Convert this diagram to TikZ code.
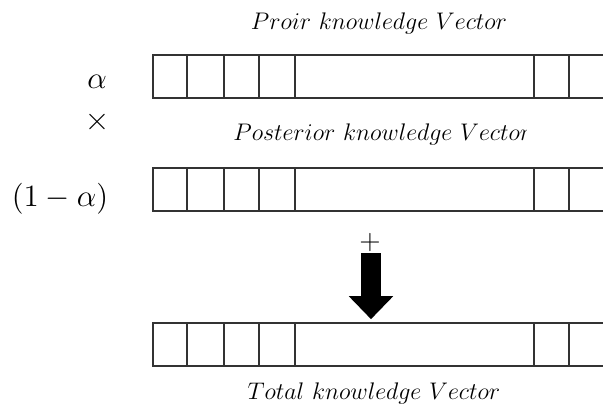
\RequirePackage{fix-cm}
\documentclass[tikz,border=0pt]{standalone}
\usepackage{tikz}
\usetikzlibrary{positioning,calc,arrows.meta}
\tikzset{
  vec/.style={rectangle, draw=black!80, line width=0.8pt, minimum width=231pt, minimum height=21.5pt, inner sep=0pt},
  captext/.style={font=\fontsize{12}{14}\selectfont},
  coef/.style={font=\fontsize{15.5}{18}\selectfont},
  bigarrow/.style={line width=10pt, -{Triangle[width=21.5pt,length=11.5pt]}}
}

\begin{document}
\begin{tikzpicture}[x=0.5pt,y=-0.5pt]
	\useasboundingbox (0,0) rectangle (603,405);
	\node[vec] (prior) at (384,76.5) {};
	\node[vec] (post) at (384,189.5) {};
	\node[vec] (total) at (384,344.5) {};
	
	% cell borders
	\foreach \v in {prior,post,total}
	\foreach \d in {35,72,107,143,382,417}
	\draw[black!80, line width=0.8pt] (\v.north west) ++(\d,0) -- ++(0,43);
	
	\node[captext] (priortext) at (379,24) {$Proir\ knowledge\ Vector$};
	\begin{scope}
	\clip (0,110) rectangle (526,160);
	\node[captext, anchor=west, inner sep=0pt] (posttext) at (233,135) {$Posterior\ knowledge\ Vector$};
	\end{scope}
	\node[captext] (totaltext) at (374,393) {$Total\ knowledge\ Vector$};
	
	\node[coef] (alpha) at (97,82) {$\alpha$};
	\node[font=\fontsize{17}{20}\selectfont] (times) at (97,122) {×};
	\node[coef] (oneminus) at (60,199) {$(1-\alpha)$};
	
	\node[font=\fontsize{14}{16}\selectfont, inner sep=0pt] (plus) at (370,243) {+};
	\coordinate (arrtop) at (371,253);
	\draw[bigarrow] (arrtop) -- ($(total.north)+(-13,-3)$);
\end{tikzpicture}
\end{document}
